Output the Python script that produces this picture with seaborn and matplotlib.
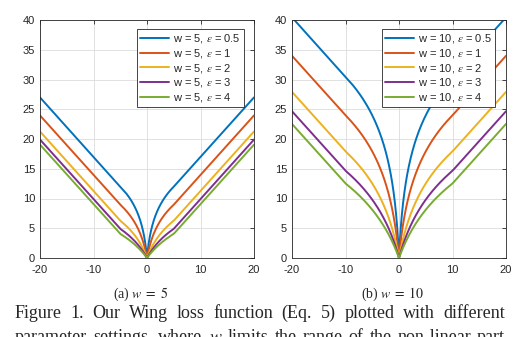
import numpy as np
import pandas as pd
import matplotlib
matplotlib.use("Agg")
import matplotlib.pyplot as plt
import seaborn as sns

# ---- data (chart parameters) ----
x_min, x_max = -20, 20
w_values = [5, 10]
eps_values = [0.5, 1, 2, 3, 4]
colors = ["#0072BD", "#D95319", "#EDB120", "#7E2F8E", "#77AC30"]
xticks = [-20, -10, 0, 10, 20]
yticks = [0, 5, 10, 15, 20, 25, 30, 35, 40]
subcaptions = [r"(a) $w\;=\;5$", r"(b) $w\;=\;10$"]
caption1 = "Figure 1. Our Wing loss function (Eq. 5) plotted with different"
caption2 = "parameter settings, where $w$ limits the range of the non-linear part"


def wing(x, w, eps):
    ax_ = np.abs(x)
    C = w - w * np.log(1 + w / eps)
    return np.where(ax_ < w, w * np.log(1 + ax_ / eps), ax_ - C)


xs = np.linspace(x_min, x_max, 2001)
rows = []
for w in w_values:
    for e in eps_values:
        lbl = rf"w = {w}, $\epsilon$ = {e}"
        rows.append(pd.DataFrame({"x": xs, "y": wing(xs, w, e), "w": w, "label": lbl}))
df = pd.concat(rows, ignore_index=True)

sns.set_style("white")
plt.rcParams["font.family"] = ["Liberation Sans", "DejaVu Sans"]
plt.rcParams["mathtext.fontset"] = "stix"
plt.rcParams["axes.unicode_minus"] = False

fig = plt.figure(figsize=(5.22, 3.37), dpi=100)
W, H = 522, 337
axes_px = [(40, 20, 254, 258), (292, 20, 506, 258)]
legend_px = [(137, 29, 243, 104), (382, 29, 497, 104)]

for i, w in enumerate(w_values):
    l, t, r, b = axes_px[i]
    ax = fig.add_axes([l / W, 1 - b / H, (r - l) / W, (b - t) / H])
    sub = df[df["w"] == w]
    labels = [rf"w = {w}, $\epsilon$ = {e}" for e in eps_values]
    sns.lineplot(data=sub, x="x", y="y", hue="label", hue_order=labels,
                 palette=colors, ax=ax, linewidth=1.4, estimator=None, sort=False)
    ax.set_xlim(x_min, x_max)
    ax.set_ylim(0, 40)
    ax.set_xticks(xticks)
    ax.set_yticks(yticks)
    ax.set_xlabel("")
    ax.set_ylabel("")
    ax.grid(True, color="#dcdcdc", linewidth=0.6)
    ax.tick_params(direction="in", length=3, width=0.6, labelsize=8,
                   colors="#262626", top=True, right=True)
    ax.tick_params(axis="x", pad=5)
    ax.tick_params(axis="y", pad=3.5)
    for s in ax.spines.values():
        s.set_color("#262626")
        s.set_linewidth(0.6)
        s.set_visible(True)
    ll, lt, lr, lb = legend_px[i]
    leg = ax.legend(loc="upper left",
                    bbox_to_anchor=((ll - l) / (r - l), 1 - (lt - t) / (b - t)),
                    fontsize=8, frameon=True, fancybox=False, framealpha=1,
                    edgecolor="#262626", handlelength=2.6, handletextpad=0.3,
                    labelspacing=0.15, borderpad=0.3, borderaxespad=0)
    leg.get_frame().set_linewidth(0.6)
    ax.set_axisbelow(True)

fig.text(141 / W, 1 - 298 / H, subcaptions[0], ha="center", va="baseline",
         fontsize=10, family="Liberation Serif")
fig.text(393 / W, 1 - 298 / H, subcaptions[1], ha="center", va="baseline",
         fontsize=10, family="Liberation Serif")


def justified(line, x0, x1, ybase, size):
    renderer = fig.canvas.get_renderer()
    words = line.split(" ")
    texts = [fig.text(0, 1 - ybase / H, wd, ha="left", va="baseline",
                      fontsize=size, family="Liberation Serif") for wd in words]
    widths = [tx.get_window_extent(renderer).width for tx in texts]
    gap = (x1 - x0 - sum(widths)) / (len(words) - 1)
    x = x0
    for tx, wdt in zip(texts, widths):
        tx.set_x(x / W)
        x += wdt + gap


justified(caption1, 15, 505, 318, 13)
justified(caption2, 15, 505, 342, 13)

fig.savefig("out.png", dpi=100)
